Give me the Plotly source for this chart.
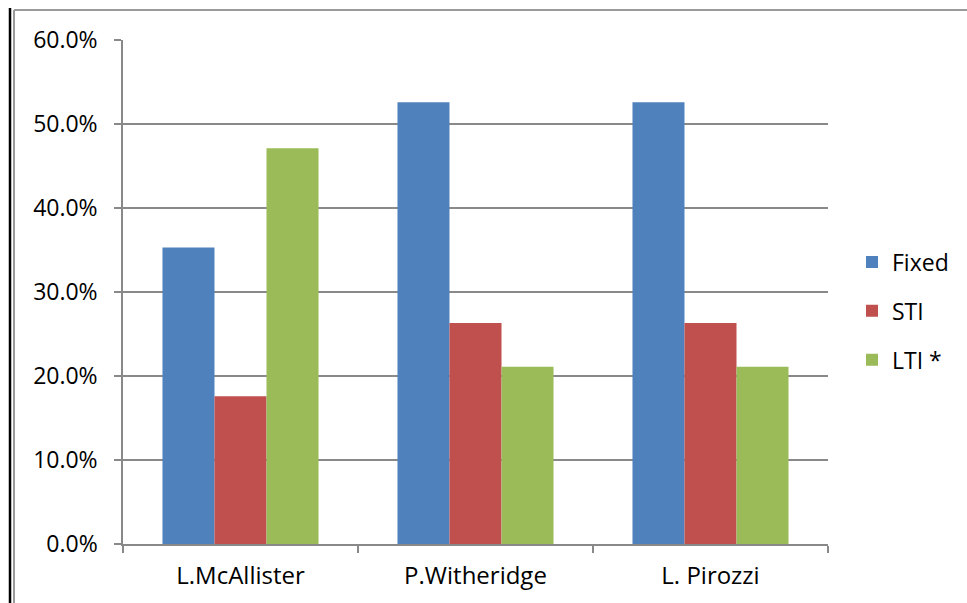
import plotly.graph_objects as go

categories = ["L.McAllister", "P.Witheridge", "L. Pirozzi"]
fixed = [0.353, 0.526, 0.526]
sti = [0.176, 0.263, 0.263]
lti = [0.471, 0.211, 0.211]
series_names = ["Fixed", "STI", "LTI *"]
colors = ["#4F81BD", "#C0504D", "#9BBB59"]
tick_vals = [0, 0.1, 0.2, 0.3, 0.4, 0.5, 0.6]

W, H = 967, 603
L, R, T, B = 123, 139, 40, 59
PW, PH = W - L - R, H - T - B
FONT = "Open Sans"
GRID = "#898989"

fig = go.Figure()
for name, vals, col in zip(series_names, [fixed, sti, lti], colors):
    fig.add_trace(go.Bar(x=categories, y=vals, name=name, marker_color=col,
                         marker_line_width=0, legendgroup=name))

def px_x(p):
    return (p - L) / PW

def px_y(p):
    return 1 - (p - T) / PH

shapes = [
    dict(type="line", xref="paper", yref="paper", x0=px_x(14), x1=px_x(967), y0=px_y(10), y1=px_y(10),
         line=dict(color="#9a9a9a", width=2)),
    dict(type="line", xref="paper", yref="paper", x0=px_x(14), x1=px_x(14), y0=px_y(10), y1=px_y(603),
         line=dict(color="#9a9a9a", width=2)),
    dict(type="line", xref="paper", yref="paper", x0=px_x(10), x1=px_x(10), y0=px_y(8), y1=px_y(603),
         line=dict(color="#000000", width=2.5)),
]

fig.update_layout(
    width=W, height=H,
    margin=dict(l=L, r=R, t=T, b=B),
    plot_bgcolor="white", paper_bgcolor="white",
    barmode="group", bargap=0.336, bargroupgap=0,
    font=dict(family=FONT, size=22, color="#000000"),
    shapes=shapes,
    legend=dict(x=px_x(852), y=px_y(311), xanchor="left", yanchor="middle",
                font=dict(family=FONT, size=23), tracegroupgap=16,
                traceorder="grouped", itemwidth=30),
    xaxis=dict(showline=True, linecolor=GRID, linewidth=1.5, ticks="outside",
               tickson="boundaries", ticklen=7, tickcolor=GRID, tickwidth=1.5,
               tickfont=dict(family=FONT, size=24), showgrid=False,
               ticklabelstandoff=9),
    yaxis=dict(range=[0, 0.6], tickvals=tick_vals, tickformat=".1%",
               showline=True, linecolor=GRID, linewidth=1.5, ticks="outside",
               ticklen=7, tickcolor=GRID, tickwidth=1.5, showgrid=True,
               gridcolor=GRID, gridwidth=1.5, zeroline=False,
               tickfont=dict(family=FONT, size=23), ticklabelstandoff=12),
)

fig.write_html("out.html", config={"displayModeBar": False},
               post_script="document.body.style.margin='0';document.body.style.overflow='hidden';")
